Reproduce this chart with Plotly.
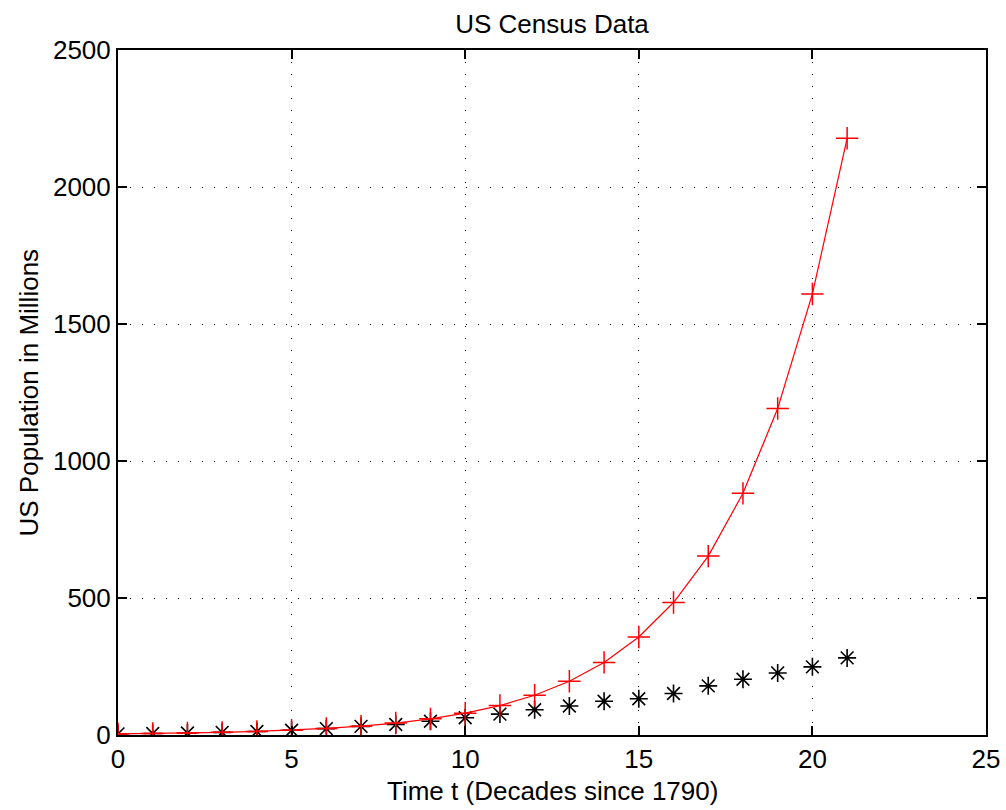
import plotly.graph_objects as go

# Data
t = list(range(22))
census = [3.929, 5.308, 7.240, 9.638, 12.866, 17.069, 23.192, 31.443, 38.558, 50.189,
          62.980, 76.212, 92.228, 106.022, 123.203, 132.165, 151.326, 179.323, 203.302,
          226.542, 248.710, 281.422]
model = [3.9, 5.3, 7.2, 9.7, 13.1, 17.7, 23.9, 32.3, 43.6, 58.9, 79.6, 107.5, 145.2,
         196.1, 264.9, 357.8, 483.4, 653.0, 882.0, 1191.6, 1609.7, 2177.9]
x_ticks = [0, 5, 10, 15, 20, 25]
y_ticks = [0, 500, 1000, 1500, 2000, 2500]

FONT = "Liberation Sans, Arial, Helvetica, sans-serif"
FS = 26

fig = go.Figure()
fig.add_trace(go.Scatter(
    x=t, y=census, mode="markers",
    marker=dict(symbol="asterisk-open", size=15, color="black",
                line=dict(color="black", width=1.6)),
    showlegend=False))
fig.add_trace(go.Scatter(
    x=t, y=model, mode="lines+markers",
    line=dict(color="red", width=1.2),
    marker=dict(symbol="cross-thin-open", size=16, color="red",
                line=dict(color="red", width=1.5)),
    showlegend=False))

axis_common = dict(
    showline=True, linecolor="black", linewidth=2, mirror="ticks",
    ticks="inside", ticklen=9, tickwidth=1.5, tickcolor="black",
    showgrid=True, gridcolor="black", gridwidth=1, griddash="1px,11px",
    zeroline=False, tickfont=dict(family=FONT, size=FS, color="black"),
)

fig.update_xaxes(range=[0, 25], tickvals=x_ticks, ticktext=[str(v) for v in x_ticks],
                 **axis_common)
fig.update_yaxes(range=[0, 2500], tickvals=y_ticks, ticktext=[str(v) for v in y_ticks],
                 **axis_common)

fig.update_layout(
    width=1006, height=810,
    margin=dict(l=118, r=20, t=50, b=75, autoexpand=False),
    paper_bgcolor="white", plot_bgcolor="white",
    font=dict(family=FONT, size=FS, color="black"),
    title=dict(text="US Census Data", x=0.5, xref="paper", y=1 - 24 / 810,
               yref="container", yanchor="middle", xanchor="center",
               font=dict(family=FONT, size=FS, color="black")),
    annotations=[
        dict(text="Time t (Decades since 1790)", xref="paper", yref="paper",
             x=0.5, y=(735 - 791) / 685, xanchor="center", yanchor="middle",
             showarrow=False, font=dict(family=FONT, size=FS, color="black")),
        dict(text="US Population in Millions", xref="paper", yref="paper",
             x=(28 - 118) / 868, y=0.5, xanchor="center", yanchor="middle",
             textangle=-90, showarrow=False,
             font=dict(family=FONT, size=FS, color="black")),
    ],
)

fig.write_html("out.html")
